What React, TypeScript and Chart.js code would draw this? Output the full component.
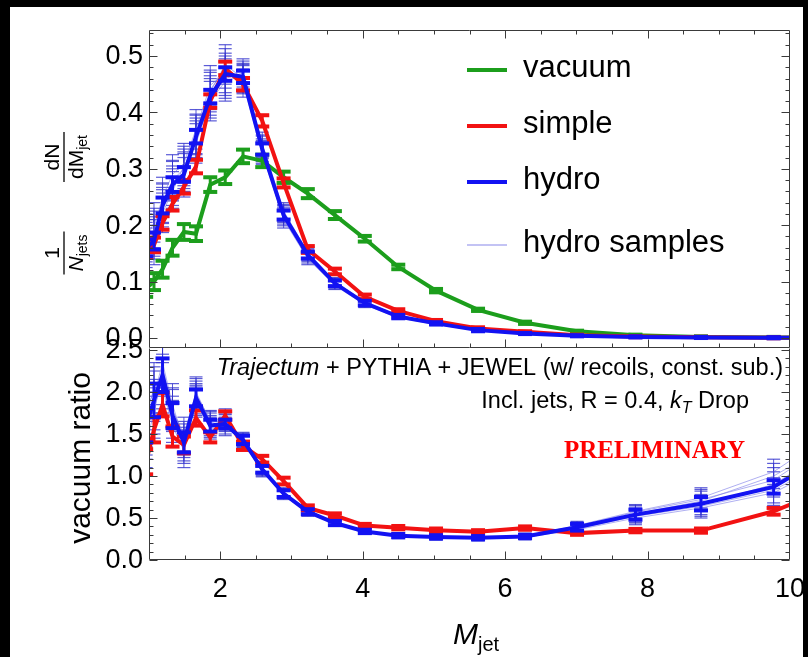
import React, { useEffect, useRef } from "react";
import { Chart, registerables } from "chart.js";

Chart.register(...registerables);

// ---------------- data ----------------
const massBins = [0.96, 1.07, 1.19, 1.33, 1.49, 1.66, 1.86, 2.07, 2.32, 2.59, 2.89, 3.23, 3.61, 4.03, 4.5, 5.03, 5.62, 6.28, 7.01, 7.83, 8.75, 9.77, 10.91];

const vacuum = [0.088, 0.100, 0.122, 0.160, 0.188, 0.185, 0.272, 0.285, 0.322, 0.314, 0.285, 0.256, 0.218, 0.176, 0.126, 0.084, 0.050, 0.027, 0.012, 0.005, 0.002, 0.001, 0.0005];
const vacuumErr = [0.015, 0.015, 0.015, 0.014, 0.014, 0.013, 0.013, 0.012, 0.012, 0.011, 0.010, 0.008, 0.007, 0.005, 0.004, 0.003, 0.002, 0.002, 0.001, 0.001, 0.001, 0.001, 0.001];

const simple = [0.155, 0.165, 0.204, 0.238, 0.268, 0.304, 0.420, 0.478, 0.450, 0.385, 0.275, 0.157, 0.118, 0.073, 0.048, 0.030, 0.017, 0.011, 0.005, 0.0025, 0.0012, 0.0006, 0.0003];
const simpleErr = [0.013, 0.013, 0.012, 0.012, 0.012, 0.012, 0.012, 0.012, 0.011, 0.010, 0.008, 0.006, 0.005, 0.004, 0.003, 0.002, 0.002, 0.001, 0.001, 0.001, 0.001, 0.001, 0.001];

const hydro = [0.160, 0.172, 0.235, 0.272, 0.290, 0.357, 0.428, 0.468, 0.463, 0.335, 0.218, 0.147, 0.097, 0.062, 0.038, 0.026, 0.014, 0.008, 0.004, 0.002, 0.001, 0.0005, 0.0003];
const hydroErr = [0.015, 0.015, 0.014, 0.013, 0.013, 0.012, 0.012, 0.012, 0.011, 0.010, 0.008, 0.006, 0.005, 0.004, 0.003, 0.002, 0.002, 0.001, 0.001, 0.001, 0.001, 0.001, 0.001];

const hydroSample1 = [0.150, 0.180, 0.240, 0.280, 0.300, 0.360, 0.440, 0.478, 0.458, 0.330, 0.214, 0.143, 0.094, 0.060, 0.037, 0.025, 0.014, 0.008, 0.004, 0.002, 0.001, 0.0005, 0.0003];
const hydroSample2 = [0.170, 0.165, 0.228, 0.265, 0.295, 0.350, 0.425, 0.460, 0.470, 0.340, 0.222, 0.150, 0.099, 0.063, 0.039, 0.026, 0.015, 0.008, 0.004, 0.002, 0.001, 0.0005, 0.0003];
const hydroSample3 = [0.140, 0.195, 0.250, 0.290, 0.310, 0.370, 0.448, 0.470, 0.452, 0.328, 0.210, 0.140, 0.093, 0.059, 0.036, 0.024, 0.013, 0.007, 0.004, 0.002, 0.001, 0.0005, 0.0003];
const hydroSample4 = [0.175, 0.205, 0.222, 0.260, 0.305, 0.345, 0.420, 0.455, 0.466, 0.345, 0.225, 0.152, 0.100, 0.064, 0.040, 0.027, 0.015, 0.009, 0.005, 0.002, 0.001, 0.0005, 0.0003];
const hydroSample5 = [0.160, 0.175, 0.238, 0.278, 0.285, 0.355, 0.436, 0.485, 0.460, 0.333, 0.217, 0.146, 0.096, 0.061, 0.038, 0.026, 0.014, 0.008, 0.004, 0.002, 0.001, 0.0005, 0.0003];
const hydroSample6 = [0.185, 0.190, 0.232, 0.270, 0.292, 0.362, 0.430, 0.465, 0.462, 0.338, 0.220, 0.148, 0.098, 0.062, 0.038, 0.026, 0.014, 0.008, 0.004, 0.002, 0.001, 0.0005, 0.0003];
const hydroSampleErr = [0.035, 0.035, 0.035, 0.035, 0.035, 0.035, 0.035, 0.035, 0.025, 0.020, 0.015, 0.010, 0.007, 0.005, 0.003, 0.002, 0.002, 0.001, 0.001, 0.001, 0.001, 0.001, 0.001];

const simpleRatio = [1.17, 1.55, 1.85, 1.47, 1.37, 1.69, 1.46, 1.72, 1.36, 1.20, 0.94, 0.62, 0.53, 0.41, 0.385, 0.355, 0.335, 0.38, 0.32, 0.35, 0.35, 0.58, 0.97];
const simpleRatioErr = [0.15, 0.15, 0.14, 0.12, 0.10, 0.09, 0.06, 0.05, 0.05, 0.04, 0.04, 0.03, 0.025, 0.02, 0.02, 0.02, 0.02, 0.02, 0.02, 0.02, 0.025, 0.04, 0.06];

const hydroRatio = [1.60, 1.90, 2.20, 1.72, 1.40, 1.93, 1.60, 1.62, 1.43, 1.08, 0.79, 0.575, 0.44, 0.34, 0.29, 0.275, 0.265, 0.28, 0.39, 0.54, 0.67, 0.87, 1.45];
const hydroRatioErr = [0.2, 0.2, 0.2, 0.15, 0.12, 0.10, 0.07, 0.05, 0.05, 0.04, 0.04, 0.03, 0.025, 0.02, 0.02, 0.02, 0.02, 0.02, 0.04, 0.06, 0.08, 0.08, 0.10];

const ratioSample1 = [1.50, 1.85, 2.30, 1.80, 1.45, 1.95, 1.63, 1.68, 1.42, 1.06, 0.77, 0.56, 0.43, 0.335, 0.29, 0.27, 0.26, 0.27, 0.36, 0.50, 0.62, 0.80, 1.30];
const ratioSample2 = [1.80, 2.00, 2.10, 1.65, 1.35, 1.90, 1.58, 1.60, 1.45, 1.10, 0.80, 0.59, 0.45, 0.345, 0.295, 0.28, 0.27, 0.29, 0.40, 0.57, 0.72, 0.95, 1.60];
const ratioSample3 = [1.40, 1.75, 2.25, 1.78, 1.50, 1.98, 1.66, 1.64, 1.40, 1.05, 0.78, 0.57, 0.44, 0.34, 0.285, 0.27, 0.26, 0.275, 0.37, 0.52, 0.64, 0.83, 1.35];
const ratioSample4 = [1.70, 2.05, 2.05, 1.60, 1.30, 1.88, 1.56, 1.58, 1.44, 1.09, 0.81, 0.58, 0.445, 0.345, 0.295, 0.28, 0.27, 0.285, 0.41, 0.58, 0.74, 1.05, 1.70];
const ratioSample5 = [1.55, 1.95, 2.35, 1.85, 1.42, 2.00, 1.65, 1.70, 1.41, 1.07, 0.79, 0.575, 0.44, 0.34, 0.29, 0.275, 0.265, 0.28, 0.38, 0.53, 0.66, 0.90, 1.50];
const ratioSample6 = [1.65, 1.80, 2.15, 1.70, 1.38, 1.92, 1.60, 1.63, 1.43, 1.08, 0.79, 0.57, 0.44, 0.34, 0.29, 0.275, 0.265, 0.28, 0.39, 0.55, 0.70, 1.00, 1.55];
const ratioSampleErr = [0.3, 0.3, 0.3, 0.25, 0.2, 0.18, 0.12, 0.10, 0.07, 0.06, 0.05, 0.04, 0.03, 0.03, 0.03, 0.03, 0.03, 0.03, 0.05, 0.08, 0.12, 0.15, 0.2];

const legendLabels = ["vacuum", "simple", "hydro", "hydro samples"];
const topTickValues = [0, 0.1, 0.2, 0.3, 0.4, 0.5];
const topTickLabels = ["0.0", "0.1", "0.2", "0.3", "0.4", "0.5"];
const ratioTickValues = [0, 0.5, 1, 1.5, 2, 2.5];
const ratioTickLabels = ["0.0", "0.5", "1.0", "1.5", "2.0", "2.5"];
const xTickValues = [2, 4, 6, 8, 10];
const xTickLabels = ["2", "4", "6", "8", "10"];

// ---------------- style ----------------
const GREEN = "#1c9e1c";
const RED = "#f21212";
const BLUE = "#1212f2";
const SAMPLE_LINE = "rgba(110,110,230,0.55)";
const SAMPLE_ERR = "rgba(50,50,205,0.8)";
const FRAME = "#3a3a3a";
const SANS = '"Liberation Sans", Arial, sans-serif';

const X_MIN = 1;
const X_MAX = 10;
const TOP_Y_MIN = -0.0177;
const TOP_Y_MAX = 0.5461;
const RATIO_Y_MIN = 0;
const RATIO_Y_MAX = 2.524;

type ErrSpec = { ys: number[]; errs: number[]; color: string; stem: number; capW: number; capH: number } | null;

const pts = (ys: number[]) => massBins.map((x, i) => ({ x, y: ys[i] }));

function drawErrorBars(chart: any, spec: ErrSpec) {
  if (!spec) return;
  const { ctx, chartArea: a, scales } = chart;
  const sx = scales.x;
  const sy = scales.y;
  ctx.save();
  ctx.beginPath();
  ctx.rect(a.left, a.top, a.right - a.left, a.bottom - a.top);
  ctx.clip();
  ctx.strokeStyle = spec.color;
  ctx.fillStyle = spec.color;
  ctx.lineWidth = spec.stem;
  for (let i = 0; i < massBins.length; i++) {
    const px = sx.getPixelForValue(massBins[i]);
    const pT = sy.getPixelForValue(spec.ys[i] + spec.errs[i]);
    const pB = sy.getPixelForValue(spec.ys[i] - spec.errs[i]);
    ctx.beginPath();
    ctx.moveTo(px, pT);
    ctx.lineTo(px, pB);
    ctx.stroke();
    ctx.fillRect(px - spec.capW / 2, pT - spec.capH / 2, spec.capW, spec.capH);
    ctx.fillRect(px - spec.capW / 2, pB - spec.capH / 2, spec.capW, spec.capH);
  }
  ctx.restore();
}

function drawFrame(chart: any, yStep: number, yCount: number, majorEvery: number, withTop: boolean) {
  const { ctx, chartArea: a, scales } = chart;
  const sx = scales.x;
  const sy = scales.y;
  const L = Math.round(a.left) + 0.5;
  const R = Math.round(a.right) - 0.5;
  const T = Math.round(a.top) + 0.5;
  const B = Math.round(a.bottom) - 0.5;
  ctx.save();
  ctx.strokeStyle = FRAME;
  ctx.lineWidth = 1;
  ctx.beginPath();
  if (withTop) {
    ctx.moveTo(L, T);
    ctx.lineTo(R, T);
  }
  ctx.moveTo(R, T);
  ctx.lineTo(R, B);
  ctx.lineTo(L, B);
  ctx.lineTo(L, T);
  for (let k = 1; k < 18; k++) {
    const v = 1 + k * 0.5;
    const major = v % 2 === 0;
    const len = major ? 8 : 4;
    const px = Math.round(sx.getPixelForValue(v)) + 0.5;
    ctx.moveTo(px, B);
    ctx.lineTo(px, B - len);
    if (withTop) {
      ctx.moveTo(px, T);
      ctx.lineTo(px, T + len);
    }
  }
  for (let k = 0; k <= yCount; k++) {
    const v = k * yStep;
    const major = k % majorEvery === 0;
    const len = major ? 8 : 4;
    const py = Math.round(sy.getPixelForValue(v)) + 0.5;
    ctx.moveTo(L, py);
    ctx.lineTo(L + len, py);
    ctx.moveTo(R, py);
    ctx.lineTo(R - len, py);
  }
  ctx.stroke();
  ctx.restore();
}

function drawYLabels(chart: any, values: number[], labels: string[]) {
  const { ctx, scales } = chart;
  ctx.save();
  ctx.fillStyle = "#000";
  ctx.font = `27px ${SANS}`;
  ctx.textAlign = "right";
  ctx.textBaseline = "middle";
  values.forEach((v, i) => {
    ctx.fillText(labels[i], 143, scales.y.getPixelForValue(v) + 1);
  });
  ctx.restore();
}

const topErrSpecs: ErrSpec[] = [
  ...[0, 1, 2, 3, 4, 5].map(() => null),
  { ys: vacuum, errs: vacuumErr, color: GREEN, stem: 3, capW: 14, capH: 4 },
  { ys: simple, errs: simpleErr, color: RED, stem: 3, capW: 14, capH: 4 },
  { ys: hydro, errs: hydroErr, color: BLUE, stem: 3, capW: 14, capH: 4 },
];
const topSampleSets = [hydroSample1, hydroSample2, hydroSample3, hydroSample4, hydroSample5, hydroSample6];

const ratioErrSpecs: ErrSpec[] = [
  ...[0, 1, 2, 3, 4, 5].map(() => null),
  { ys: simpleRatio, errs: simpleRatioErr, color: RED, stem: 3, capW: 14, capH: 4 },
  { ys: hydroRatio, errs: hydroRatioErr, color: BLUE, stem: 3, capW: 14, capH: 4 },
];
const ratioSampleSets = [ratioSample1, ratioSample2, ratioSample3, ratioSample4, ratioSample5, ratioSample6];

const topPlugin = {
  id: "topPanel",
  beforeDatasetsDraw(chart: any) {
    topSampleSets.forEach((s) =>
      drawErrorBars(chart, { ys: s, errs: hydroSampleErr, color: SAMPLE_ERR, stem: 1, capW: 13, capH: 1.2 })
    );
  },
  afterDatasetDraw(chart: any, args: any) {
    drawErrorBars(chart, topErrSpecs[args.index]);
  },
  afterDraw(chart: any) {
    const { ctx } = chart;
    drawFrame(chart, 0.02, 27, 5, true);
    drawYLabels(chart, topTickValues, topTickLabels);

    // legend
    const rowsY = [70, 126, 182, 245];
    const colors = [GREEN, RED, BLUE, SAMPLE_LINE];
    const widths = [4, 4, 4, 1.5];
    ctx.save();
    rowsY.forEach((y, i) => {
      ctx.strokeStyle = colors[i];
      ctx.lineWidth = widths[i];
      ctx.beginPath();
      ctx.moveTo(467, y);
      ctx.lineTo(507, y);
      ctx.stroke();
      ctx.fillStyle = "#000";
      ctx.font = `31px ${SANS}`;
      ctx.textAlign = "left";
      ctx.textBaseline = "alphabetic";
      ctx.fillText(legendLabels[i], 523, y + 7);
    });
    ctx.restore();

    // y title: 1/N_jets dN/dM_jet (rotated)
    ctx.save();
    ctx.translate(64, 205);
    ctx.rotate(-Math.PI / 2);
    ctx.fillStyle = "#000";
    ctx.strokeStyle = "#000";
    const big = `21px ${SANS}`;
    const bigIt = `italic 21px ${SANS}`;
    const small = `14px ${SANS}`;
    ctx.textBaseline = "alphabetic";
    ctx.textAlign = "left";
    // fraction 1
    const c1 = -48;
    ctx.font = bigIt;
    const wN = ctx.measureText("N").width;
    ctx.font = small;
    const wJets = ctx.measureText("jets").width;
    const wDen1 = wN + wJets;
    ctx.font = big;
    const w1 = ctx.measureText("1").width;
    ctx.fillText("1", c1 - w1 / 2, -5);
    ctx.lineWidth = 1.3;
    ctx.beginPath();
    ctx.moveTo(c1 - wDen1 / 2 - 3, 0);
    ctx.lineTo(c1 + wDen1 / 2 + 3, 0);
    ctx.stroke();
    ctx.font = bigIt;
    ctx.fillText("N", c1 - wDen1 / 2, 19);
    ctx.font = small;
    ctx.fillText("jets", c1 - wDen1 / 2 + wN, 23);
    // fraction 2
    const c2 = 48;
    ctx.font = big;
    const wdM = ctx.measureText("dM").width;
    ctx.font = small;
    const wJet = ctx.measureText("jet").width;
    const wDen2 = wdM + wJet;
    ctx.font = big;
    const wdN = ctx.measureText("dN").width;
    ctx.fillText("dN", c2 - wdN / 2, -5);
    ctx.beginPath();
    ctx.moveTo(c2 - wDen2 / 2 - 3, 0);
    ctx.lineTo(c2 + wDen2 / 2 + 3, 0);
    ctx.stroke();
    ctx.fillText("dM", c2 - wDen2 / 2, 19);
    ctx.font = small;
    ctx.fillText("jet", c2 - wDen2 / 2 + wdM, 23);
    ctx.restore();
  },
};

const ratioPlugin = {
  id: "ratioPanel",
  beforeDatasetsDraw(chart: any) {
    ratioSampleSets.forEach((s) =>
      drawErrorBars(chart, { ys: s, errs: ratioSampleErr, color: SAMPLE_ERR, stem: 1, capW: 13, capH: 1.2 })
    );
  },
  afterDatasetDraw(chart: any, args: any) {
    drawErrorBars(chart, ratioErrSpecs[args.index]);
  },
  afterDraw(chart: any) {
    const { ctx, scales } = chart;
    drawFrame(chart, 0.1, 25, 5, false);
    drawYLabels(chart, ratioTickValues, ratioTickLabels);

    ctx.save();
    ctx.fillStyle = "#000";
    // x tick labels
    ctx.font = `27px ${SANS}`;
    ctx.textAlign = "center";
    ctx.textBaseline = "alphabetic";
    xTickValues.forEach((v, i) => {
      ctx.fillText(xTickLabels[i], scales.x.getPixelForValue(v), 597);
    });

    // x title M_jet
    ctx.textAlign = "left";
    ctx.font = `italic 30px ${SANS}`;
    const wM = ctx.measureText("M").width;
    ctx.font = `20px ${SANS}`;
    const wjet = ctx.measureText("jet").width;
    const x0 = 476 - (wM + wjet) / 2;
    ctx.font = `italic 30px ${SANS}`;
    ctx.fillText("M", x0, 644);
    ctx.font = `20px ${SANS}`;
    ctx.fillText("jet", x0 + wM, 651);

    // y title vacuum ratio
    ctx.save();
    ctx.translate(90, 458);
    ctx.rotate(-Math.PI / 2);
    ctx.font = `30px ${SANS}`;
    ctx.textAlign = "center";
    ctx.fillText("vacuum ratio", 0, 0);
    ctx.restore();

    // annotation line 1
    ctx.textAlign = "left";
    ctx.font = `italic 23.5px ${SANS}`;
    const t1a = "Trajectum";
    const wa = ctx.measureText(t1a).width;
    ctx.font = `23.5px ${SANS}`;
    const t1b = " + PYTHIA + JEWEL (w/ recoils, const. sub.)";
    const wb = ctx.measureText(t1b).width;
    const s1 = 783 - wa - wb;
    ctx.font = `italic 23.5px ${SANS}`;
    ctx.fillText(t1a, s1, 375);
    ctx.font = `23.5px ${SANS}`;
    ctx.fillText(t1b, s1 + wa, 375);

    // annotation line 2
    const p1 = "Incl. jets, R = 0.4, ";
    const p4 = " Drop";
    ctx.font = `23.5px ${SANS}`;
    const w1 = ctx.measureText(p1).width;
    const w4 = ctx.measureText(p4).width;
    ctx.font = `italic 23.5px ${SANS}`;
    const w2 = ctx.measureText("k").width;
    ctx.font = `italic 16px ${SANS}`;
    const w3 = ctx.measureText("T").width;
    const s2 = 749 - (w1 + w2 + w3 + w4);
    ctx.font = `23.5px ${SANS}`;
    ctx.fillText(p1, s2, 408);
    ctx.font = `italic 23.5px ${SANS}`;
    ctx.fillText("k", s2 + w1, 408);
    ctx.font = `italic 16px ${SANS}`;
    ctx.fillText("T", s2 + w1 + w2, 413);
    ctx.font = `23.5px ${SANS}`;
    ctx.fillText(p4, s2 + w1 + w2 + w3, 408);

    // PRELIMINARY
    ctx.fillStyle = "#ff0000";
    ctx.font = `bold 25px "Liberation Serif", "Times New Roman", serif`;
    ctx.textAlign = "right";
    ctx.fillText("PRELIMINARY", 745, 458);
    ctx.restore();
  },
};

function lineDs(ys: number[], color: string, width: number, order: number) {
  return {
    data: pts(ys),
    borderColor: color,
    backgroundColor: color,
    borderWidth: width,
    pointRadius: 0,
    tension: 0,
    fill: false,
    order,
  };
}

function baseOptions(padding: any, yMin: number, yMax: number) {
  return {
    animation: false as const,
    responsive: false,
    maintainAspectRatio: false,
    devicePixelRatio: 1,
    events: [] as any[],
    layout: { padding },
    plugins: { legend: { display: false }, tooltip: { enabled: false }, title: { display: false } },
    scales: {
      x: { type: "linear" as const, min: X_MIN, max: X_MAX, display: false },
      y: { type: "linear" as const, min: yMin, max: yMax, display: false },
    },
  };
}

export default function App() {
  const topRef = useRef<HTMLCanvasElement | null>(null);
  const botRef = useRef<HTMLCanvasElement | null>(null);

  useEffect(() => {
    if (!topRef.current || !botRef.current) return;
    const topChart = new Chart(topRef.current, {
      type: "line",
      data: {
        datasets: [
          ...topSampleSets.map((s) => lineDs(s, SAMPLE_LINE, 1, 10)),
          lineDs(vacuum, GREEN, 4, 3),
          lineDs(simple, RED, 4, 2),
          lineDs(hydro, BLUE, 4, 1),
        ],
      },
      options: baseOptions({ left: 149, top: 30, right: 18, bottom: 309 }, TOP_Y_MIN, TOP_Y_MAX) as any,
      plugins: [topPlugin],
    });
    const botChart = new Chart(botRef.current, {
      type: "line",
      data: {
        datasets: [
          ...ratioSampleSets.map((s) => lineDs(s, SAMPLE_LINE, 1, 10)),
          lineDs(simpleRatio, RED, 4, 2),
          lineDs(hydroRatio, BLUE, 4, 1),
        ],
      },
      options: baseOptions({ left: 149, top: 348, right: 18, bottom: 97 }, RATIO_Y_MIN, RATIO_Y_MAX) as any,
      plugins: [ratioPlugin],
    });
    return () => {
      topChart.destroy();
      botChart.destroy();
    };
  }, []);

  const canvasStyle: React.CSSProperties = { position: "absolute", left: 0, top: 0, width: 808, height: 657 };
  return (
    <div style={{ position: "fixed", left: 0, top: 0, width: 808, height: 657, background: "#000", overflow: "hidden" }}>
      <div style={{ position: "absolute", left: 10, top: 7, width: 793, height: 650, background: "#fff" }} />
      <canvas ref={topRef} width={808} height={657} style={canvasStyle} />
      <canvas ref={botRef} width={808} height={657} style={canvasStyle} />
    </div>
  );
}
